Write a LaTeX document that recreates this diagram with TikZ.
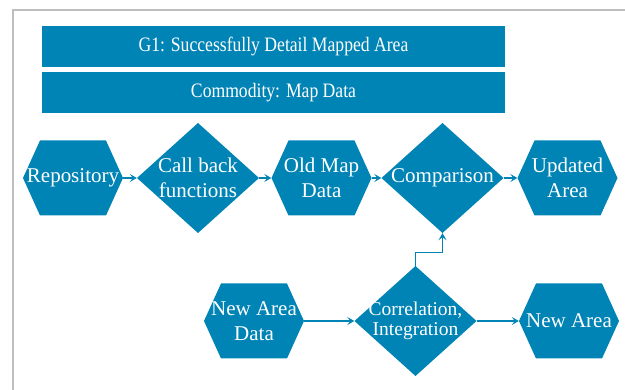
\documentclass[tikz,border=0pt]{standalone}
\usepackage{fontspec}
\setmainfont{Liberation Serif}
\newfontfamily\barfont[FakeStretch=0.86]{Liberation Serif}
\usepackage{tikz}
\usetikzlibrary{arrows.meta}

\definecolor{mapblue}{RGB}{0,132,181}
\definecolor{framegray}{RGB}{190,190,190}

\begin{document}
\begin{tikzpicture}[x=1pt,y=-1pt,
  barbox/.style={fill=mapblue,text=white,minimum width=463pt,minimum height=41pt,
    inner sep=0pt,font=\barfont\fontsize{20.5}{24}\selectfont},
  hexbox/.style={minimum width=100pt,minimum height=75pt,inner sep=0pt,text=white,
    align=center,font=\fontsize{21}{25}\selectfont,
    path picture={\fill[mapblue] (path picture bounding box.west)
      -- ([xshift=17pt]path picture bounding box.north west)
      -- ([xshift=-17pt]path picture bounding box.north east)
      -- (path picture bounding box.east)
      -- ([xshift=-17pt]path picture bounding box.south east)
      -- ([xshift=17pt]path picture bounding box.south west) -- cycle;}},
  diabox/.style={minimum width=122pt,minimum height=110pt,inner sep=0pt,text=white,
    align=center,font=\fontsize{21}{25}\selectfont,
    path picture={\fill[mapblue] (path picture bounding box.west)
      -- (path picture bounding box.north) -- (path picture bounding box.east)
      -- (path picture bounding box.south) -- cycle;}},
  link/.style={draw=mapblue,line width=1.2pt,-{Stealth[length=7pt,width=8pt,inset=3pt]}},
  frameline/.style={draw=framegray,line width=1.5pt}]

\useasboundingbox (0,0) rectangle (625,390) ;

\draw[frameline] (625,10) -- (13,10) -- (13,390) ;

\node[barbox] (goal) at (273.5,46.5) {G1: Successfully Detail Mapped Area} ;
\node[barbox] (commodity) at (273.5,92.5) {Commodity: Map Data} ;

% upper row
\node[hexbox] (repo) at (73,178) {Repository} ;
\node[diabox] (callback) at (198,178) {Call back\\functions} ;
\node[hexbox] (oldmap) at (321.5,178) {Old Map\\Data} ;
\node[diabox] (compare) at (442.5,178) {Comparison} ;
\node[hexbox] (updated) at (567.5,178) {Updated\\Area} ;

\draw[link] (repo.east) -- (callback.west) ;
\draw[link] (callback.east) -- (oldmap.west) ;
\draw[link] (oldmap.east) -- (compare.west) ;
\draw[link] (compare.east) -- (updated.west) ;

% lower row
\node[hexbox] (newdata) at (254,321) {New Area\\Data} ;
\node[diabox,font=\fontsize{19.5}{20.5}\selectfont] (correl) at (415.5,321) {Correlation,\\Integration} ;
\node[hexbox] (newarea) at (569,321) {New Area} ;

\draw[link] (newdata.east) -- (correl.west) ;
\draw[link] (correl.east) -- (newarea.west) ;
\draw[link] (correl.north) -- ++(0,-13) -| (compare.south) ;

\end{tikzpicture}
\end{document}
